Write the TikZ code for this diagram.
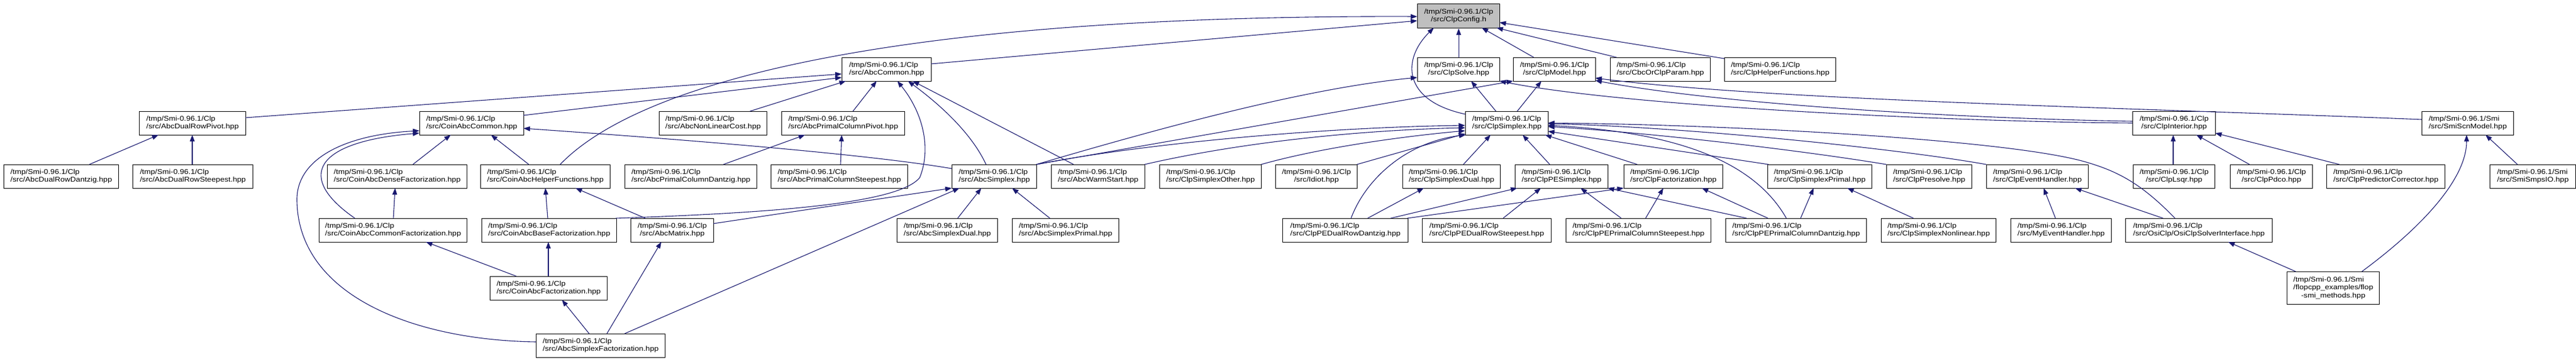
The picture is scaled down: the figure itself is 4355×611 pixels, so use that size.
\documentclass[tikz,border=0pt]{standalone}
\usepackage{fontspec}
\setmainfont{Liberation Sans}
\usepackage{graphicx}
\usetikzlibrary{calc,arrows.meta}
\definecolor{midnight}{HTML}{191970}
\definecolor{cfggray}{HTML}{BFBFBF}
\newcommand\twol[2]{\scalebox{1.138}[1]{\begin{tabular}{@{}l@{}}#1\\\multicolumn{1}{@{}c@{}}{#2}\end{tabular}}}
\newcommand\threel[3]{\scalebox{1.138}[1]{\begin{tabular}{@{}l@{}}#1\\#2\\\multicolumn{1}{@{}c@{}}{#3}\end{tabular}}}
\newcommand\clp{/tmp/Smi-0.96.1/Clp}
\newcommand\smi{/tmp/Smi-0.96.1/Smi}
\begin{document}
\begin{tikzpicture}[x=1pt,y=-1pt,
  bx/.style={draw=black,line width=1.1pt,fill=white,inner sep=0pt,anchor=north west,
    minimum height=40,font=\fontsize{11.6}{13.4}\selectfont},
  edge/.style={draw=midnight,line width=1.1pt,-{Triangle[length=11pt,width=8pt]}}]
\useasboundingbox (0,0) rectangle (4355,611);
\fill[white] (0,0) rectangle (4355,611);
% row 0
\node[bx,minimum width=139,minimum height=41,fill=cfggray] (cfg) at (2396,6) {\twol{\clp}{/src/ClpConfig.h}};
% row 1
\node[bx,minimum width=151] (abccom) at (1423,97) {\twol{\clp}{/src/AbcCommon.hpp}};
\node[bx,minimum width=139] (solve) at (2396,97) {\twol{\clp}{/src/ClpSolve.hpp}};
\node[bx,minimum width=139] (model) at (2558,97) {\twol{\clp}{/src/ClpModel.hpp}};
\node[bx,minimum width=169] (cbc) at (2722,97) {\twol{\clp}{/src/CbcOrClpParam.hpp}};
\node[bx,minimum width=188] (helper) at (2915,97) {\twol{\clp}{/src/ClpHelperFunctions.hpp}};
% row 2
\node[bx,minimum width=180] (drp) at (235,188) {\twol{\clp}{/src/AbcDualRowPivot.hpp}};
\node[bx,minimum width=176] (cacom) at (709,188) {\twol{\clp}{/src/CoinAbcCommon.hpp}};
\node[bx,minimum width=182] (nlc) at (1114,188) {\twol{\clp}{/src/AbcNonLinearCost.hpp}};
\node[bx,minimum width=208] (pcp) at (1321,188) {\twol{\clp}{/src/AbcPrimalColumnPivot.hpp}};
\node[bx,minimum width=140] (simplex) at (2477,188) {\twol{\clp}{/src/ClpSimplex.hpp}};
\node[bx,minimum width=140] (interior) at (3605,188) {\twol{\clp}{/src/ClpInterior.hpp}};
\node[bx,minimum width=155] (scn) at (4094,188) {\twol{\smi}{/src/SmiScnModel.hpp}};
% row 3
\node[bx,minimum width=194] (drd) at (6,278) {\twol{\clp}{/src/AbcDualRowDantzig.hpp}};
\node[bx,minimum width=203] (drs) at (224,278) {\twol{\clp}{/src/AbcDualRowSteepest.hpp}};
\node[bx,minimum width=236] (dense) at (553,278) {\twol{\clp}{/src/CoinAbcDenseFactorization.hpp}};
\node[bx,minimum width=219] (hf) at (812,278) {\twol{\clp}{/src/CoinAbcHelperFunctions.hpp}};
\node[bx,minimum width=223] (pcd) at (1056,278) {\twol{\clp}{/src/AbcPrimalColumnDantzig.hpp}};
\node[bx,minimum width=231] (pcs) at (1303,278) {\twol{\clp}{/src/AbcPrimalColumnSteepest.hpp}};
\node[bx,minimum width=143] (abcs) at (1609,278) {\twol{\clp}{/src/AbcSimplex.hpp}};
\node[bx,minimum width=158] (warm) at (1777,278) {\twol{\clp}{/src/AbcWarmStart.hpp}};
\node[bx,minimum width=172] (other) at (1960,278) {\twol{\clp}{/src/ClpSimplexOther.hpp}};
\node[bx,minimum width=138] (idiot) at (2156,278) {\twol{\clp}{/src/Idiot.hpp}};
\node[bx,minimum width=165] (sdual) at (2371,278) {\twol{\clp}{/src/ClpSimplexDual.hpp}};
\node[bx,minimum width=157] (pes) at (2561,278) {\twol{\clp}{/src/ClpPESimplex.hpp}};
\node[bx,minimum width=167] (fact) at (2745,278) {\twol{\clp}{/src/ClpFactorization.hpp}};
\node[bx,minimum width=176] (sprim) at (2988,278) {\twol{\clp}{/src/ClpSimplexPrimal.hpp}};
\node[bx,minimum width=144] (presolve) at (3189,278) {\twol{\clp}{/src/ClpPresolve.hpp}};
\node[bx,minimum width=172] (event) at (3358,278) {\twol{\clp}{/src/ClpEventHandler.hpp}};
\node[bx,minimum width=138] (lsqr) at (3606,278) {\twol{\clp}{/src/ClpLsqr.hpp}};
\node[bx,minimum width=139] (pdco) at (3770,278) {\twol{\clp}{/src/ClpPdco.hpp}};
\node[bx,minimum width=200] (pc) at (3933,278) {\twol{\clp}{/src/ClpPredictorCorrector.hpp}};
\node[bx,minimum width=145] (smps) at (4209,278) {\twol{\smi}{/src/SmiSmpsIO.hpp}};
% row 4
\node[bx,minimum width=250] (cfact) at (539,369) {\twol{\clp}{/src/CoinAbcCommonFactorization.hpp}};
\node[bx,minimum width=228] (bfact) at (814,369) {\twol{\clp}{/src/CoinAbcBaseFactorization.hpp}};
\node[bx,minimum width=140] (matrix) at (1066,369) {\twol{\clp}{/src/AbcMatrix.hpp}};
\node[bx,minimum width=170] (adual) at (1516,369) {\twol{\clp}{/src/AbcSimplexDual.hpp}};
\node[bx,minimum width=180] (aprimal) at (1711,369) {\twol{\clp}{/src/AbcSimplexPrimal.hpp}};
\node[bx,minimum width=212] (pedrd) at (2168,369) {\twol{\clp}{/src/ClpPEDualRowDantzig.hpp}};
\node[bx,minimum width=218] (pedrs) at (2404,369) {\twol{\clp}{/src/ClpPEDualRowSteepest.hpp}};
\node[bx,minimum width=245] (pepcs) at (2647,369) {\twol{\clp}{/src/ClpPEPrimalColumnSteepest.hpp}};
\node[bx,minimum width=238] (pepcd) at (2917,369) {\twol{\clp}{/src/ClpPEPrimalColumnDantzig.hpp}};
\node[bx,minimum width=194] (nonlin) at (3180,369) {\twol{\clp}{/src/ClpSimplexNonlinear.hpp}};
\node[bx,minimum width=170] (myev) at (3399,369) {\twol{\clp}{/src/MyEventHandler.hpp}};
\node[bx,minimum width=248] (osi) at (3593,369) {\twol{\clp}{/src/OsiClp/OsiClpSolverInterface.hpp}};
% row 5
\node[bx,minimum width=198] (cafact) at (828,467) {\twol{\clp}{/src/CoinAbcFactorization.hpp}};
\node[bx,minimum width=156,minimum height=55] (flop) at (3866,459) {\threel{\smi}{/flopcpp\_examples/flop}{-smi\_methods.hpp}};
% row 6
\node[bx,minimum width=218] (asf) at (906,564) {\twol{\clp}{/src/AbcSimplexFactorization.hpp}};

% edges into ClpConfig
\draw[edge] ($(abccom.north west)+(151,11)$) -- ($(cfg.north west)+(0,29)$);
\draw[edge] ($(hf.north west)+(135,0)$) .. controls (1080,140) and (1500,25) .. ($(cfg.north west)+(0,22)$);
\draw[edge] ($(simplex.north west)+(0,5)$) .. controls (2370,170) and (2370,100) .. ($(cfg.north west)+(28,41)$);
\draw[edge] (solve.north) -- (cfg.south);
\draw[edge] ($(model.north west)+(35,0)$) -- ($(cfg.north west)+(109,41)$);
\draw[edge] ($(cbc.north west)+(11,0)$) -- ($(cfg.north west)+(134,41)$);
\draw[edge] ($(helper.north west)+(0,2)$) -- ($(cfg.north west)+(139,32)$);
% edges into AbcCommon
\draw[edge] ($(drp.north west)+(180,11)$) -- ($(abccom.north west)+(0,28)$);
\draw[edge] ($(cacom.north west)+(176,7)$) -- ($(abccom.north west)+(0,34)$);
\draw[edge] ($(nlc.north west)+(154,0)$) -- ($(abccom.north west)+(7,40)$);
\draw[edge] ($(pcp.north west)+(121,0)$) -- ($(abccom.north west)+(59,40)$);
\draw[edge] ($(bfact.north west)+(227,0)$) .. controls (1300,360) and (1520,345) .. (1555,300) .. controls (1575,250) and (1560,190) .. ($(abccom.north west)+(94,40)$);
\draw[edge] ($(abcs.north west)+(58,0)$) .. controls (1640,220) and (1580,170) .. ($(abccom.north west)+(112,40)$);
\draw[edge] ($(warm.north west)+(38,0)$) -- ($(abccom.north west)+(120,40)$);
% edges into ClpSolve
\draw[edge] ($(abcs.north west)+(143,0)$) .. controls (1950,220) and (2200,150) .. ($(solve.north west)+(0,34)$);
\draw[edge] ($(simplex.north west)+(52,0)$) -- ($(solve.north west)+(91,40)$);
\draw[edge] ($(interior.north west)+(0,20)$) .. controls (3300,206) and (2750,180) .. ($(solve.north west)+(139,40)$);
% edges into ClpModel
\draw[edge] ($(abcs.north west)+(143,0)$) -- ($(model.north west)+(0,40)$);
\draw[edge] ($(simplex.north west)+(88,0)$) -- ($(model.north west)+(48,40)$);
\draw[edge] ($(interior.north west)+(0,17)$) .. controls (3300,200) and (2900,175) .. ($(model.north west)+(139,39)$);
\draw[edge] ($(scn.north west)+(0,14)$) .. controls (3600,182) and (3000,170) .. ($(model.north west)+(139,35)$);
% edges into ClpSimplex
\draw[edge] ($(abcs.north west)+(143,0)$) .. controls (1950,240) and (2250,215) .. ($(simplex.north west)+(0,24)$);
\draw[edge] ($(warm.north west)+(158,0)$) .. controls (2100,240) and (2300,220) .. ($(simplex.north west)+(0,28)$);
\draw[edge] ($(other.north west)+(172,0)$) .. controls (2250,245) and (2400,228) .. ($(simplex.north west)+(0,33)$);
\draw[edge] ($(idiot.north west)+(138,0)$) -- ($(simplex.north west)+(0,38)$);
\draw[edge] ($(sdual.north west)+(103,0)$) -- ($(simplex.north west)+(43,40)$);
\draw[edge] ($(pes.north west)+(59,0)$) -- ($(simplex.north west)+(97,40)$);
\draw[edge] ($(fact.north west)+(23,0)$) -- ($(simplex.north west)+(135,40)$);
\draw[edge] ($(sprim.north west)+(2,0)$) -- ($(simplex.north west)+(140,34)$);
\draw[edge] (presolve.north west) .. controls (3050,255) and (2800,225) .. ($(simplex.north west)+(140,26)$);
\draw[edge] (event.north west) .. controls (3200,250) and (2850,215) .. ($(simplex.north west)+(140,21)$);
\draw[edge] ($(osi.north west)+(84,0)$) .. controls (3620,310) and (3580,290) .. (3530,275) .. controls (3400,235) and (2900,210) .. ($(simplex.north west)+(140,20)$);
\draw[edge] ($(pedrd.north west)+(116,0)$) .. controls (2310,300) and (2380,240) .. ($(simplex.north west)+(1,40)$);
\draw[edge] ($(pepcd.north west)+(103,0)$) .. controls (2975,290) and (2870,225) .. ($(simplex.north west)+(140,24)$);
% ClpPE row
\draw[edge] ($(pedrd.north west)+(144,0)$) -- ($(sdual.north west)+(36,40)$);
\draw[edge] ($(pedrd.north west)+(183,0)$) -- ($(pes.north west)+(4,40)$);
\draw[edge] ($(pedrs.north west)+(137,0)$) -- ($(pes.north west)+(44,40)$);
\draw[edge] ($(pepcs.north west)+(94,0)$) -- ($(pes.north west)+(111,40)$);
\draw[edge] ($(pepcd.north west)+(36,0)$) -- ($(pes.north west)+(157,40)$);
\draw[edge] ($(pedrd.north west)+(211,0)$) -- ($(fact.north west)+(0,40)$);
\draw[edge] ($(pepcs.north west)+(135,0)$) -- ($(fact.north west)+(67,40)$);
\draw[edge] ($(pepcd.north west)+(72,0)$) -- ($(fact.north west)+(132,40)$);
\draw[edge] ($(pepcd.north west)+(127,0)$) -- ($(sprim.north west)+(78,40)$);
\draw[edge] ($(nonlin.north west)+(55,0)$) -- ($(sprim.north west)+(135,40)$);
\draw[edge] ($(myev.north west)+(76,0)$) -- ($(event.north west)+(97,40)$);
\draw[edge] ($(osi.north west)+(64,0)$) -- ($(event.north west)+(150,40)$);
% right part
\draw[edge] ($(lsqr.north west)+(68,0)$) -- ($(interior.north west)+(69,40)$);
\draw[edge] ($(pdco.north west)+(33,0)$) -- ($(interior.north west)+(108,40)$);
\draw[edge] ($(pc.north west)+(22,0)$) -- ($(interior.north west)+(140,37)$);
\draw[edge] ($(flop.north west)+(127,0)$) .. controls (4100,380) and (4170,300) .. ($(scn.north west)+(76,40)$);
\draw[edge] ($(smps.north west)+(47,0)$) -- ($(scn.north west)+(108,40)$);
\draw[edge] ($(flop.north west)+(15,0)$) -- ($(osi.north west)+(174,40)$);
% left part
\draw[edge] ($(drd.north west)+(145,0)$) -- ($(drp.north west)+(33,40)$);
\draw[edge] ($(drs.north west)+(101,0)$) -- ($(drp.north west)+(90,40)$);
\draw[edge] ($(dense.north west)+(145,0)$) -- ($(cacom.north west)+(53,40)$);
\draw[edge] ($(hf.north west)+(82,0)$) -- ($(cacom.north west)+(121,40)$);
\draw[edge] ($(cfact.north west)+(61,0)$) .. controls (500,300) and (530,240) .. ($(cacom.north west)+(0,37)$);
\draw[edge] ($(asf.north west)+(0,14)$) .. controls (700,575) and (505,500) .. (502,340) .. controls (500,270) and (580,228) .. ($(cacom.north west)+(0,33)$);
\draw[edge] ($(abcs.north west)+(0,7)$) .. controls (1450,258) and (1100,232) .. ($(cacom.north west)+(176,29)$);
\draw[edge] ($(cfact.north west)+(126,0)$) -- ($(dense.north west)+(115,40)$);
\draw[edge] ($(bfact.north west)+(112,0)$) -- ($(hf.north west)+(110,40)$);
\draw[edge] ($(matrix.north west)+(25,0)$) -- ($(hf.north west)+(161,40)$);
\draw[edge] ($(cafact.north west)+(45,0)$) -- ($(cfact.north west)+(181,40)$);
\draw[edge] ($(cafact.north west)+(99,0)$) -- ($(bfact.north west)+(113,40)$);
\draw[edge] ($(asf.north west)+(90,0)$) -- ($(cafact.north west)+(122,40)$);
\draw[edge] ($(asf.north west)+(120,0)$) -- ($(matrix.north west)+(52,40)$);
\draw[edge] ($(matrix.north west)+(140,9)$) -- ($(abcs.north west)+(0,40)$);
\draw[edge] ($(asf.north west)+(150,0)$) -- ($(abcs.north west)+(13,40)$);
\draw[edge] ($(adual.north west)+(103,0)$) -- ($(abcs.north west)+(50,40)$);
\draw[edge] ($(aprimal.north west)+(64,0)$) -- ($(abcs.north west)+(102,40)$);
\draw[edge] ($(pcd.north west)+(167,0)$) -- ($(pcp.north west)+(40,40)$);
\draw[edge] ($(pcs.north west)+(118,0)$) -- ($(pcp.north west)+(102,40)$);
\end{tikzpicture}
\end{document}
